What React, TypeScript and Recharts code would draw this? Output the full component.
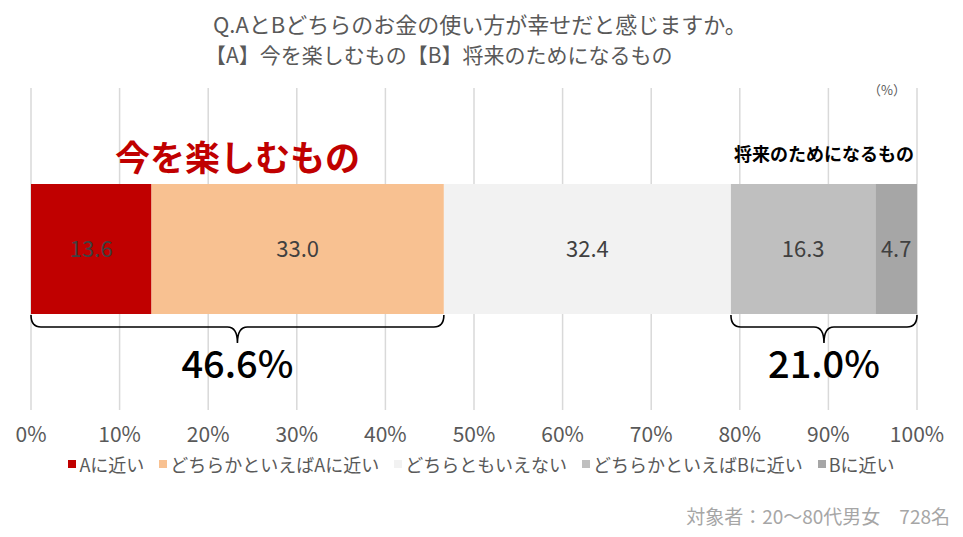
import React from "react";
import {
  Bar,
  BarChart,
  CartesianGrid,
  LabelList,
  Legend,
  ReferenceArea,
  XAxis,
  YAxis,
} from "recharts";

const categories = ["全体"];
const seriesNames = [
  "Aに近い",
  "どちらかといえばAに近い",
  "どちらともいえない",
  "どちらかといえばBに近い",
  "Bに近い",
];
const seriesValues = [13.6, 33.0, 32.4, 16.3, 4.7];
const seriesColors = ["#C00000", "#F8C191", "#F2F2F2", "#BFBFBF", "#A6A6A6"];
const xTicks = [0, 10, 20, 30, 40, 50, 60, 70, 80, 90, 100];
const groupNames = ["今を楽しむもの", "将来のためになるもの"];

const data = categories.map((name) => {
  const row: Record<string, string | number> = { name };
  seriesNames.forEach((s, i) => (row[s] = seriesValues[i]));
  return row;
});

const aTotal = seriesValues[0] + seriesValues[1];
const bTotal = seriesValues[3] + seriesValues[4];

const BAR_SIZE = 130;
const FONT = "'Noto Sans CJK JP', 'Noto Sans', sans-serif";

function makeBrace(label: string, total: number, big: boolean) {
  return (props: any) => {
    const { x, y, width, height } = props;
    const barTop = y + height / 2 - BAR_SIZE / 2;
    const barBottom = y + height / 2 + BAR_SIZE / 2;
    const x1 = x;
    const x2 = x + width;
    const mid = (x1 + x2) / 2;
    const top = barBottom + 1;
    const h = top + 12;
    const tip = top + 28;
    const r = 10;
    const d = `M${x1},${top} Q${x1},${h} ${x1 + r},${h} L${mid - r},${h} Q${mid},${h} ${mid},${tip} Q${mid},${h} ${mid + r},${h} L${x2 - r},${h} Q${x2},${h} ${x2},${top}`;
    return (
      <g>
        <path d={d} fill="none" stroke="#000" strokeWidth={1.6} />
        <text
          x={mid}
          y={barTop - (big ? 29 : 31)}
          textAnchor="middle"
          dominantBaseline="central"
          fill={big ? "#C00000" : "#000"}
          fontSize={big ? 35 : 18}
          fontWeight="bold"
          fontFamily={FONT}
        >
          {label}
        </text>
        <text
          x={mid}
          y={barBottom + 47}
          textAnchor="middle"
          dominantBaseline="central"
          fill="#000"
          fontSize={38}
          fontWeight={500}
          fontFamily={FONT}
        >
          {total.toFixed(1)}%
        </text>
      </g>
    );
  };
}

// legend built from the series arrays so the order stays as in the reference
const renderLegend = () => (
  <div
    style={{
      display: "flex",
      justifyContent: "center",
      gap: 15,
      fontSize: 18,
      color: "#595959",
      fontFamily: FONT,
    }}
  >
    {seriesNames.map((s, i) => (
      <div key={s} style={{ display: "flex", alignItems: "center" }}>
        <span
          style={{
            display: "inline-block",
            width: 8,
            height: 8,
            background: seriesColors[i],
            marginRight: 3,
          }}
        />
        <span>{s}</span>
      </div>
    ))}
  </div>
);

export default function App() {
  return (
    <div
      style={{
        position: "absolute",
        left: 0,
        top: 0,
        width: 963,
        height: 537,
        background: "#fff",
        fontFamily: FONT,
      }}
    >
      <div
        style={{
          position: "absolute",
          left: 213,
          top: 8,
          lineHeight: "31px",
          color: "#595959",
          whiteSpace: "nowrap",
        }}
      >
        <div style={{ fontSize: 22 }}>Q.AとBどちらのお金の使い方が幸せだと感じますか。</div>
        <div style={{ fontSize: 21, marginLeft: -8 }}>【A】今を楽しむもの【B】将来のためになるもの</div>
      </div>
      <div
        style={{
          position: "absolute",
          left: 868,
          top: 80,
          fontSize: 13,
          color: "#595959",
        }}
      >
        （%）
      </div>
      <div
        style={{
          position: "absolute",
          right: 13,
          top: 502,
          fontSize: 19,
          color: "#A6A6A6",
          whiteSpace: "nowrap",
        }}
      >
        対象者：20～80代男女　728名
      </div>
      <div style={{ position: "absolute", left: 0, top: 0 }}>
        <BarChart
          width={963}
          height={537}
          data={data}
          layout="vertical"
          margin={{ top: 88, left: 31, right: 46, bottom: 97 }}
          barSize={BAR_SIZE}
        >
          <CartesianGrid horizontal={false} stroke="#D9D9D9" strokeWidth={1.5} />
          <XAxis
            type="number"
            domain={[0, 100]}
            ticks={xTicks}
            tickFormatter={(v) => `${v}%`}
            axisLine={false}
            tickLine={false}
            tickMargin={11}
            height={30}
            interval={0}
            tick={{ fill: "#595959", fontSize: 21 }}
          />
          <YAxis type="category" dataKey="name" hide />
          {seriesNames.map((s, i) => (
            <Bar
              key={s}
              dataKey={s}
              stackId="a"
              fill={seriesColors[i]}
              isAnimationActive={false}
            >
              <LabelList
                dataKey={s}
                position="center"
                fill="#404040"
                fontSize={22}
                formatter={(v: any) => Number(v).toFixed(1)}
              />
            </Bar>
          ))}
          <ReferenceArea
            x1={0}
            x2={aTotal}
            fill="none"
            stroke="none"
            ifOverflow="visible"
            shape={makeBrace(groupNames[0], aTotal, true)}
          />
          <ReferenceArea
            x1={100 - bTotal}
            x2={100}
            fill="none"
            stroke="none"
            ifOverflow="visible"
            shape={makeBrace(groupNames[1], bTotal, false)}
          />
          <Legend
            layout="horizontal"
            verticalAlign="middle"
            align="center"
            content={renderLegend}
            wrapperStyle={{ top: 451, left: 0, width: 963 }}
          />
        </BarChart>
      </div>
    </div>
  );
}
